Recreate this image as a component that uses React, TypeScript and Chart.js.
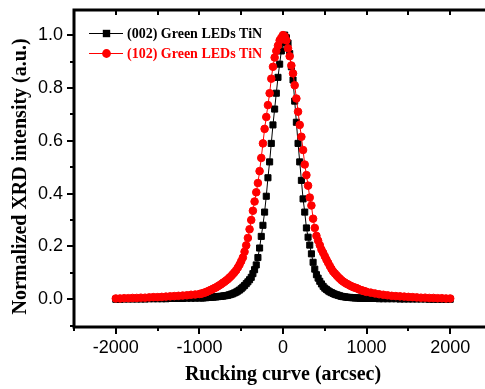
import React, { useEffect, useRef } from "react";
import { Chart, registerables } from "chart.js";

Chart.register(...registerables);

// Rocking-curve angle (arcsec)
const xs = [
  -2000, -1950, -1900, -1850, -1800, -1750, -1700, -1650, -1600, -1550, -1500,
  -1450, -1400, -1350, -1300, -1250, -1200, -1150, -1100, -1050, -1000,
  -980, -960, -940, -920, -900, -880, -860, -840, -820, -800,
  -780, -760, -740, -720, -700, -680, -660, -640, -620, -600,
  -580, -560, -540, -520, -500, -480, -460, -440, -420, -400,
  -380, -360, -340, -320, -300, -280, -260, -240, -220, -200,
  -180, -160, -140, -120, -100, -80, -60, -40, -20, 0,
  20, 40, 60, 80, 100, 120, 140, 160, 180, 200,
  220, 240, 260, 280, 300, 320, 340, 360, 380, 400,
  420, 440, 460, 480, 500, 520, 540, 560, 580, 600,
  620, 640, 660, 680, 700, 720, 740, 760, 780, 800,
  820, 840, 860, 880, 900, 920, 940, 960, 980,
  1000, 1050, 1100, 1150, 1200, 1250, 1300, 1350, 1400, 1450, 1500,
  1550, 1600, 1650, 1700, 1750, 1800, 1850, 1900, 1950, 2000,
];

// (002) Green LEDs TiN — normalized intensity
const black002 = [
  0, 0, 0.001, 0.001, 0.001, 0.001, 0.001, 0.001, 0.002, 0.002, 0.002,
  0.002, 0.002, 0.003, 0.003, 0.003, 0.003, 0.004, 0.004, 0.004, 0.005,
  0.005, 0.005, 0.006, 0.006, 0.007, 0.007, 0.008, 0.008, 0.009, 0.009,
  0.010, 0.011, 0.011, 0.012, 0.013, 0.014, 0.015, 0.017, 0.019, 0.021,
  0.024, 0.027, 0.031, 0.035, 0.040, 0.046, 0.052, 0.059, 0.066, 0.074,
  0.083, 0.097, 0.112, 0.130, 0.158, 0.194, 0.238, 0.28, 0.33, 0.39,
  0.46, 0.52, 0.59, 0.66, 0.72, 0.78, 0.84, 0.89, 0.94, 0.97,
  1.0, 0.99, 0.97, 0.93, 0.88, 0.83, 0.75, 0.67, 0.59, 0.52,
  0.45, 0.38, 0.33, 0.27, 0.235, 0.205, 0.172, 0.140, 0.114, 0.093,
  0.080, 0.068, 0.058, 0.049, 0.042, 0.037, 0.032, 0.028, 0.025, 0.022,
  0.019, 0.017, 0.015, 0.013, 0.011, 0.010, 0.009, 0.008, 0.007, 0.007,
  0.006, 0.006, 0.005, 0.005, 0.005, 0.004, 0.004, 0.004, 0.003,
  0.003, 0.003, 0.003, 0.002, 0.002, 0.002, 0.002, 0.002, 0.001, 0.001, 0.001,
  0.001, 0.001, 0.001, 0.001, 0, 0, 0, 0, 0, 0,
];

// (102) Green LEDs TiN — normalized intensity
const red102 = [
  0.003, 0.003, 0.004, 0.004, 0.005, 0.005, 0.006, 0.006, 0.007, 0.008, 0.008,
  0.009, 0.010, 0.011, 0.012, 0.013, 0.014, 0.015, 0.017, 0.018, 0.020,
  0.021, 0.023, 0.025, 0.027, 0.030, 0.033, 0.036, 0.039, 0.042, 0.045,
  0.049, 0.053, 0.057, 0.062, 0.066, 0.071, 0.076, 0.082, 0.088, 0.095,
  0.102, 0.110, 0.120, 0.131, 0.144, 0.158, 0.180, 0.204, 0.232, 0.265,
  0.30, 0.335, 0.37, 0.405, 0.44, 0.485, 0.535, 0.59, 0.645, 0.69,
  0.735, 0.78, 0.835, 0.88, 0.915, 0.94, 0.96, 0.98, 0.99, 1.0,
  0.995, 0.98, 0.95, 0.92, 0.885, 0.855, 0.81, 0.76, 0.71, 0.66,
  0.615, 0.565, 0.51, 0.47, 0.43, 0.385, 0.355, 0.305, 0.27, 0.24,
  0.222, 0.205, 0.188, 0.176, 0.163, 0.15, 0.138, 0.126, 0.115, 0.105,
  0.098, 0.091, 0.084, 0.078, 0.072, 0.067, 0.063, 0.059, 0.056, 0.052,
  0.049, 0.046, 0.044, 0.042, 0.039, 0.036, 0.034, 0.032, 0.030,
  0.028, 0.025, 0.022, 0.019, 0.017, 0.015, 0.013, 0.012, 0.011, 0.010, 0.009,
  0.008, 0.007, 0.006, 0.006, 0.005, 0.005, 0.004, 0.004, 0.003, 0.003,
];

const seriesLabels = ["(002) Green LEDs TiN", "(102) Green LEDs TiN"];
const seriesColors = ["#000000", "#ff0000"];
const xTickValues = [-2000, -1000, 0, 1000, 2000];
const xMinorTicks = [-2500, -1500, -500, 500, 1500, 2500];
const yTickValues = [0, 0.2, 0.4, 0.6, 0.8, 1.0];
const yMinorTicks = [-0.1, 0.1, 0.3, 0.5, 0.7, 0.9, 1.1];
const xTitle = "Rucking curve (arcsec)";
const yTitle = "Normalized XRD intensity (a.u.)";

const SANS = "'Liberation Sans', Arial, sans-serif";
const SERIF = "'Liberation Serif', 'Times New Roman', serif";

const framePlugin = {
  id: "originFrame",
  afterDraw(chart: any) {
    const { ctx, chartArea } = chart;
    const { left, right, top, bottom } = chartArea;
    const xs_ = chart.scales.x;
    const ys_ = chart.scales.y;
    ctx.save();
    ctx.strokeStyle = "#000";
    ctx.lineWidth = 3;
    ctx.strokeRect(left, top, right - left, bottom - top);
    ctx.lineWidth = 2;
    ctx.beginPath();
    for (const v of xTickValues) {
      const p = Math.round(xs_.getPixelForValue(v));
      ctx.moveTo(p, bottom); ctx.lineTo(p, bottom + 7);
      ctx.moveTo(p, top); ctx.lineTo(p, top + 5);
    }
    for (const v of xMinorTicks) {
      const p = Math.round(xs_.getPixelForValue(v));
      ctx.moveTo(p, bottom); ctx.lineTo(p, bottom + 4);
      ctx.moveTo(p, top); ctx.lineTo(p, top + 5);
    }
    for (const v of yTickValues) {
      const p = Math.round(ys_.getPixelForValue(v));
      ctx.moveTo(left, p); ctx.lineTo(left - 7, p);
      ctx.moveTo(right, p); ctx.lineTo(right - 5, p);
    }
    for (const v of yMinorTicks) {
      const p = Math.round(ys_.getPixelForValue(v));
      if (p < top || p > bottom) continue;
      ctx.moveTo(left, p); ctx.lineTo(left - 4, p);
      ctx.moveTo(right, p); ctx.lineTo(right - 5, p);
    }
    ctx.stroke();

    // y-axis title (rotated), placed as in the reference
    ctx.save();
    ctx.translate(21, top + 166.5);
    ctx.rotate(-Math.PI / 2);
    ctx.font = `bold 20px ${SERIF}`;
    ctx.fillStyle = "#000";
    ctx.textAlign = "center";
    ctx.textBaseline = "middle";
    ctx.fillText(yTitle, 0, 0);
    ctx.restore();

    // legend (line + marker + coloured bold text)
    ctx.font = `bold 14px ${SERIF}`;
    ctx.textBaseline = "middle";
    ctx.textAlign = "left";
    for (let i = 0; i < seriesLabels.length; i++) {
      const yy = top + 23.5 + i * 20;
      const c = seriesColors[i];
      ctx.strokeStyle = c;
      ctx.fillStyle = c;
      ctx.lineWidth = 1;
      ctx.beginPath();
      ctx.moveTo(left + 15, yy);
      ctx.lineTo(left + 49, yy);
      ctx.stroke();
      const mx = left + 32.5;
      if (i === 0) {
        ctx.fillRect(mx - 3.7, yy - 3.7, 7.4, 7.4);
      } else {
        ctx.beginPath();
        ctx.arc(mx, yy, 4.4, 0, Math.PI * 2);
        ctx.fill();
      }
      ctx.fillText(seriesLabels[i], left + 53, yy + 0.5);
    }
    ctx.restore();
  },
};

export default function App() {
  const ref = useRef<HTMLCanvasElement | null>(null);

  useEffect(() => {
    if (!ref.current) return;
    const chart = new Chart(ref.current, {
      type: "line",
      data: {
        datasets: [
          {
            label: seriesLabels[0],
            data: xs.map((x, i) => ({ x, y: black002[i] })),
            borderColor: seriesColors[0],
            backgroundColor: seriesColors[0],
            borderWidth: 1,
            pointStyle: "rect",
            pointRadius: 4.3,
            pointBorderWidth: 1,
            pointBorderColor: seriesColors[0],
            pointBackgroundColor: seriesColors[0],
            tension: 0,
            order: 2,
          },
          {
            label: seriesLabels[1],
            data: xs.map((x, i) => ({ x, y: red102[i] })),
            borderColor: seriesColors[1],
            backgroundColor: seriesColors[1],
            borderWidth: 1,
            pointStyle: "circle",
            pointRadius: 3.8,
            pointBorderWidth: 1,
            pointBorderColor: seriesColors[1],
            pointBackgroundColor: seriesColors[1],
            tension: 0,
            order: 1,
          },
        ],
      },
      options: {
        animation: false,
        responsive: false,
        maintainAspectRatio: false,
        layout: { padding: { top: 10, right: 18, left: 0, bottom: 0 } },
        plugins: { legend: { display: false }, tooltip: { enabled: false } },
        scales: {
          x: {
            type: "linear",
            min: -2500,
            max: 2500,
            afterFit: (s: any) => { s.height = 62; s.paddingLeft = 0; s.paddingRight = 0; },
            afterBuildTicks: (s: any) => { s.ticks = xTickValues.map((v) => ({ value: v })); },
            grid: { display: false, drawTicks: false },
            border: { display: false },
            ticks: {
              autoSkip: false,
              maxRotation: 0,
              padding: 10,
              color: "#000",
              font: { family: SANS, size: 18 },
              callback: (v: any) => String(v),
            },
            title: {
              display: true,
              text: xTitle,
              color: "#000",
              font: { family: SERIF, size: 20, weight: "bold" },
              padding: { top: 0, bottom: 2 },
            },
          },
          y: {
            type: "linear",
            min: -0.105,
            max: 1.095,
            afterFit: (s: any) => { s.width = 74; s.paddingTop = 0; s.paddingBottom = 0; },
            afterBuildTicks: (s: any) => { s.ticks = yTickValues.map((v) => ({ value: v })); },
            grid: { display: false, drawTicks: false },
            border: { display: false },
            ticks: {
              autoSkip: false,
              padding: 11,
              color: "#000",
              font: { family: SANS, size: 18 },
              callback: (v: any) => Number(v).toFixed(1),
            },
            title: { display: false, text: yTitle },
          },
        },
      },
      plugins: [framePlugin],
    });
    return () => chart.destroy();
  }, []);

  return (
    <div
      style={{
        position: "fixed",
        left: 0,
        top: 0,
        width: 485,
        height: 389,
        overflow: "hidden",
        background: "#fff",
      }}
    >
      <canvas ref={ref} width={510} height={389} style={{ display: "block", width: 510, height: 389 }} />
    </div>
  );
}
